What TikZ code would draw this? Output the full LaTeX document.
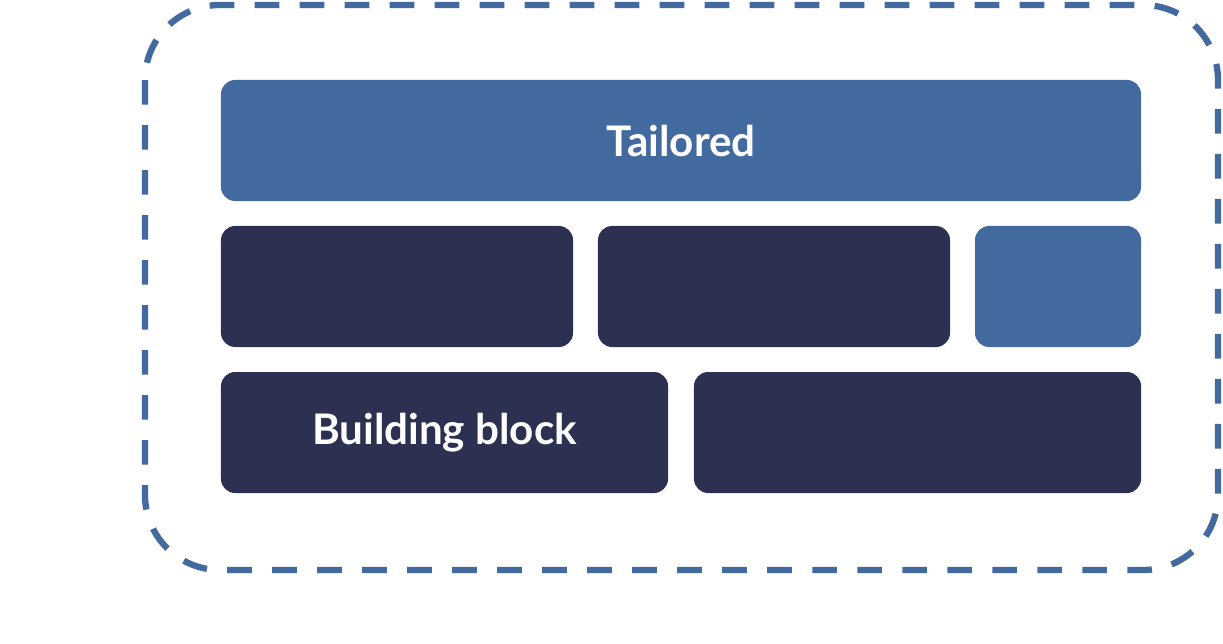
\documentclass[tikz,border=0pt]{standalone}
\usepackage{fontspec}
\setmainfont{Lato}
\usepackage{tikz}
\usetikzlibrary{backgrounds}
\definecolor{tailblue}{HTML}{436A9F}
\definecolor{blockdark}{HTML}{2C3152}
\tikzstyle{brick}=[rounded corners=12pt, inner sep=0pt, minimum height=3.63cm, text=white, font=\fontsize{36}{40}\selectfont\bfseries]
\tikzstyle{tailored}=[brick, fill=tailblue]
\tikzstyle{building}=[brick, fill=blockdark]

\begin{document}
\begin{tikzpicture}[x=0.03cm, y=-0.03cm]
	\useasboundingbox (0,0) rectangle (1223,644);
	\draw[tailblue, line width=5.4pt, rounded corners=2.25cm, dash pattern=on 0.74cm off 0.61cm] (145,5) rectangle (1218,570);
	\node[tailored, minimum width=27.6cm] (top) at (681,140.5) {Tailored};
	\node[building, minimum width=10.56cm] (midA) at (397,286.5) {};
	\node[building, minimum width=10.56cm] (midB) at (774,286.5) {};
	\node[tailored, minimum width=4.98cm] (midC) at (1058,286.5) {};
	\node[building, minimum width=13.41cm] (lowA) at (444.5,432.5) {Building block};
	\node[building, minimum width=13.41cm] (lowB) at (917.5,432.5) {};
\end{tikzpicture}
\end{document}
